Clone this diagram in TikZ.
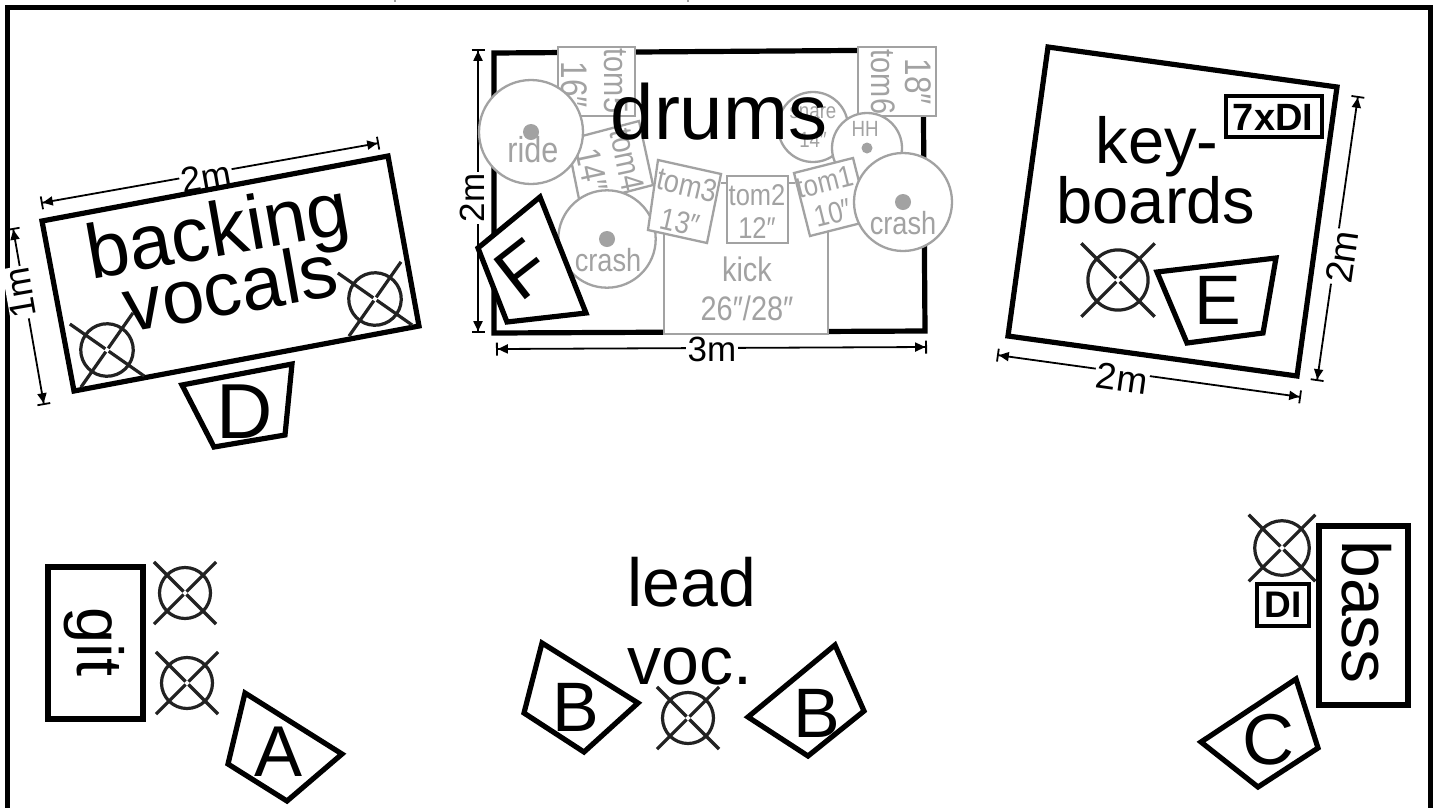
\documentclass[tikz,border=0pt]{standalone}
\usepackage{fontspec}
\setmainfont{Liberation Sans}
\newfontfamily\nf[FakeStretch=0.85]{Liberation Sans}
\usetikzlibrary{arrows.meta}
\definecolor{kit}{HTML}{A2A2A2}
\definecolor{micink}{HTML}{222222}
\newcommand{\fs}[1]{\fontsize{#1}{#1}\selectfont}
\tikzset{
  heavy/.style={draw=black,line width=5.2pt,miter limit=10,fill=white},
  kitline/.style={draw=kit,line width=2.3pt,fill=white},
  kittext/.style={text=kit,inner sep=0pt,font=\nf\fs{#1}},
  kittext/.default=32,
  bigtext/.style={text=black,inner sep=0pt,font=\fs{#1}},
  dimline/.style={line width=1.8pt,{Bar[width=13pt,line width=1.8pt]Triangle[length=10pt,width=9pt]}-{Triangle[length=10pt,width=9pt]Bar[width=13pt,line width=1.8pt]}},
  dimtext/.style={fill=white,text=black,inner sep=1.5pt,font=\fs{#1}},
  dimtext/.default=36,
  dot/.style={fill=kit,draw=none}
}
\newcommand{\micsym}[5]{%
  \begin{scope}[shift={(#2,#3)},rotate=#4,scale=#5]
    \coordinate (#1) at (0,0);
    \draw[micink,line width=3.2pt] (0,0) circle[radius=25.5pt];
    \foreach \a in {45,135,225,315}{
      \draw[micink,line width=3.2pt] (\a:2pt) -- (\a:44pt);
    }
  \end{scope}}
\begin{document}
\begin{tikzpicture}[x=1pt,y=-1pt]
\path[use as bounding box] (0,0) rectangle (1438,807);
\clip (0,0) rectangle (1438,807);
\fill[white] (0,0) rectangle (1438,807);
% outer frame, running off the bottom of the page
\draw[black,line width=5pt] (7.5,830) -- (7.5,7.5) -- (1430.5,7.5) -- (1430.5,830);
\draw[kit,line width=1.5pt] (395,0) -- (395,1.5) (688,0) -- (688,1.5);

% ---------- backing vocals
\coordinate (bvA) at (41,203); \coordinate (bvB) at (379,143);
\draw[dimline] (bvA) -- (bvB);
\node[dimtext,rotate=10] (bvw) at (206,177) {2m};
\coordinate (bvC) at (13,228); \coordinate (bvD) at (44,405);
\draw[dimline] (bvC) -- (bvD);
\node[dimtext,rotate=100] (bvh) at (20,293) {1m};
\draw[heavy] (42,221) -- (388,156) -- (419,326) -- (74,391) -- cycle;
\node[bigtext=77,rotate=10,anchor=base] (backing) at (222,256) {backing};
\node[bigtext=76,rotate=10,anchor=base] (vocals) at (235,314) {vocals};
\micsym{micbv1}{107}{350}{10}{1.03}
\micsym{micbv2}{375}{299}{10}{1.03}
\draw[heavy] (182,385) -- (292,364) -- (285,435) -- (214,447) -- cycle;
\node[bigtext=78] (letterD) at (245,412) {D};

% ---------- drums
\draw[heavy] (494,53) -- (923,50) -- (925,331) -- (494,333) -- cycle;
\coordinate (drA) at (478,49); \coordinate (drB) at (478,333);
\draw[dimline] (drA) -- (drB);
\node[dimtext=35,rotate=90] (drh) at (472,198) {2m};
\draw[kitline] (664,225) -- (664,334) -- (828,334) -- (828,225);
\node[kittext=34] (kickA) at (747,269) {kick};
\node[kittext=34] (kickB) at (747,308) {26″/28″};
% tom5
\draw[kitline] (558,47) rectangle (635,116);
\node[kittext=34,rotate=-90] (tomfive) at (616,81) {tom5};
\node[kittext=37,rotate=-90] (sizefive) at (574,85) {16″};
% tom4
\draw[kitline] (567,140) -- (639,121) -- (653,185) -- (580,204) -- cycle;
\node[kittext=33,rotate=-78] (tomfour) at (627,160) {tom4};
\node[kittext=35,rotate=-78] (sizefour) at (592,170) {14″};
% tom6
\draw[kitline] (858,47) rectangle (936,116);
\node[kittext=34,rotate=-90] (tomsix) at (883,82) {tom6};
\node[kittext=37,rotate=-90] (sizesix) at (918,82) {18″};
% snare
\draw[kitline] (813,127) circle[radius=35pt];
\node[kittext=22] (snareA) at (813,113) {snare};
\node[kittext=22] (snareB) at (813,140) {14″};
% hi-hat
\draw[kitline] (867,148) circle[radius=35pt];
\fill[dot] (867,148) circle[radius=5.5pt];
\node[kittext=22] (hh) at (865,129) {HH};
% ride
\draw[kitline] (531,132) circle[radius=52pt];
\fill[dot] (531,132) circle[radius=8pt];
\node[kittext=36] (ride) at (533,150) {ride};
% crash left
\draw[kitline] (607,239) circle[radius=48.7pt];
\fill[dot] (607,239) circle[radius=8pt];
\node[kittext=32] (crashL) at (608,260) {crash};
% tom connectors
\coordinate (tcA) at (721,183); \coordinate (tcB) at (727,183);
\coordinate (tcC) at (788,183); \coordinate (tcD) at (795,183);
\draw[kit,line width=2.2pt] (tcA) -- (tcB) (tcC) -- (tcD);
% tom3
\draw[kitline] (658,160) -- (721,174) -- (707,243) -- (648,230) -- cycle;
\node[kittext=32,rotate=-13] (tomthree) at (687,185) {tom3};
\node[kittext=31,rotate=-13] (sizethree) at (680,222) {13″};
% tom2
\draw[kitline] (727,176) rectangle (788,243);
\node[kittext=30] (tomtwo) at (757,195) {tom2};
\node[kittext=30] (sizetwo) at (757,228) {12″};
% tom1
\draw[kitline] (794,173) -- (853,158) -- (869,221) -- (810,236) -- cycle;
\node[kittext=30,rotate=14] (tomone) at (825,182) {tom1};
\node[kittext=30,rotate=14] (sizeone) at (833,213) {10″};
% crash right
\draw[kitline] (903,202) circle[radius=49pt];
\fill[dot] (903,202) circle[radius=8pt];
\node[kittext=32] (crashR) at (903,223) {crash};
% dimension 3 m
\coordinate (drC) at (496,349); \coordinate (drD) at (927,347);
\draw[dimline] (drC) -- (drD);
\node[dimtext=35] (drw) at (712,349) {3m};
% F
\draw[heavy] (540,197) -- (586,313) -- (507,322) -- (478,248) -- cycle;
\node[bigtext=74,rotate=38] (letterF) at (523,270) {F};
\node[bigtext=78,anchor=base] (drumlabel) at (719,139) {drums};

% ---------- keyboards
\coordinate (kbA) at (997,355); \coordinate (kbB) at (1301,397);
\draw[dimline] (kbA) -- (kbB);
\node[dimtext=37,rotate=-8] (kbw) at (1122,378) {2m};
\coordinate (kbC) at (1358,96); \coordinate (kbD) at (1317,381);
\draw[dimline] (kbC) -- (kbD);
\node[dimtext=38,rotate=82] (kbh) at (1342,257) {2m};
\draw[heavy] (1048,47) -- (1337,87) -- (1297,376) -- (1008,336) -- cycle;
\draw[draw=black,line width=4.8pt] (1226,96) rectangle (1322,137);
\node[bigtext=38,font=\bfseries\fs{38}] (sevendi) at (1273,117) {7xDI};
\node[bigtext=65,anchor=base] (key) at (1157,163) {key-};
\node[bigtext=65,anchor=base] (boards) at (1156,223) {boards};
\micsym{mickb}{1118}{280}{0}{1.18}
\draw[heavy] (1157,272) -- (1276,258) -- (1263,333) -- (1187,343) -- cycle;
\node[bigtext=70] (letterE) at (1218,300) {E};

% ---------- guitar
\draw[heavy] (48,567) rectangle (143,719);
\node[bigtext=65,rotate=-90,anchor=base] (git) at (77,642) {git};
\micsym{micgit1}{185}{593}{0}{1}
\micsym{micgit2}{187}{683}{0}{1}
\draw[heavy] (245,693) -- (342,754) -- (287,801) -- (228,764) -- cycle;
\node[bigtext=72] (letterA) at (279,752) {A};

% ---------- lead vocals
\draw[heavy] (542,643) -- (638,703) -- (584,752) -- (524,713) -- cycle;
\node[bigtext=70] (letterBa) at (576,707) {B};
\draw[heavy] (835,645) -- (864,711) -- (808,756) -- (748,717) -- cycle;
\node[bigtext=70] (letterBb) at (817,713) {B};
\node[bigtext=68,anchor=base] (lead) at (692,606) {lead};
\node[bigtext=68,anchor=base] (voc) at (690,684) {voc.};
\micsym{miclead}{688}{718}{0}{1}

% ---------- bass
\draw[heavy] (1319,526) rectangle (1408,705);
\node[bigtext=68,rotate=-90,anchor=base] (bass) at (1342,612) {bass};
\micsym{micbass}{1282}{548}{0}{1.07}
\draw[draw=black,line width=4.8pt] (1257,584) rectangle (1309,626);
\node[bigtext=37,font=\bfseries\fs{37}] (di) at (1283,605) {DI};
\draw[heavy] (1296,679) -- (1318,748) -- (1258,787) -- (1201,742) -- cycle;
\node[bigtext=72] (letterC) at (1268,740) {C};
\end{tikzpicture}
\end{document}
